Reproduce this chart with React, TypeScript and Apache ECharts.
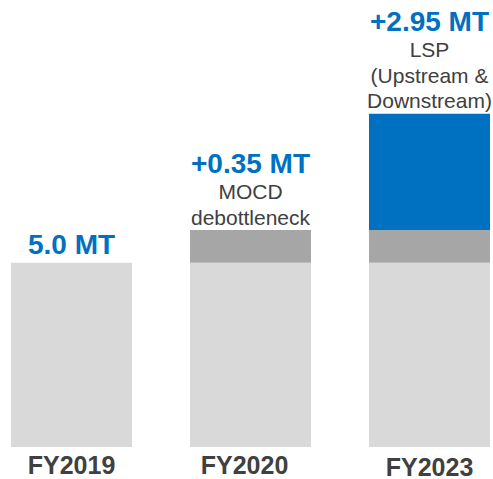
import React, { useEffect, useRef } from "react";
import * as echarts from "echarts";

const categories = ["FY2019", "FY2020", "FY2023"];
// drawn segment heights (MT units on the bar scale)
const baseValues = [5.0, 5.0, 5.0];
const debottleneckValues = [0, 0.89, 0.89];
const lspValues = [0, 0, 3.16];
const headlineLabels = ["5.0 MT", "+0.35 MT", "+2.95 MT"];
const detailLabels = [[], ["MOCD", "debottleneck"], ["LSP", "(Upstream &", "Downstream)"]];

const BLUE = "#0070c0";
const TEXT = "#404040";
const FONT = "'Liberation Sans', Arial, sans-serif";

export default function App() {
  const ref = useRef<HTMLDivElement>(null);
  useEffect(() => {
    if (!ref.current) return;
    const chart = echarts.init(ref.current, null, { renderer: "svg" });
    const seriesValues = [baseValues, debottleneckValues, lspValues];
    const colors = ["#d9d9d9", "#a6a6a6", BLUE];
    const names = ["Base", "MOCD debottleneck", "LSP"];
    const topIndex = categories.map((_, i) => {
      let t = 0;
      seriesValues.forEach((vals, s) => {
        if (vals[i] > 0) t = s;
      });
      return t;
    });
    const series = seriesValues.map((vals, s) => ({
      name: names[s],
      type: "bar",
      stack: "total",
      barWidth: 121,
      itemStyle: { color: colors[s] },
      data: vals.map((v, i) => {
        const item: any = { value: v };
        if (topIndex[i] === s) {
          const lines = [`{h|${headlineLabels[i]}}`].concat(
            detailLabels[i].map((d) => `{s|${d}}`)
          );
          item.label = {
            show: true,
            position: "top",
            distance: detailLabels[i].length ? 0 : 2,
            formatter: lines.join("\n"),
            rich: {
              h: {
                fontSize: 28,
                fontWeight: "bold",
                color: BLUE,
                lineHeight: 32,
                fontFamily: FONT,
              },
              s: {
                fontSize: 21,
                color: TEXT,
                lineHeight: 25.5,
                fontFamily: FONT,
              },
            },
          };
        }
        return item;
      }),
    }));
    chart.setOption({
      animation: false,
      grid: { left: 0, right: 0, top: 0, bottom: 30 },
      xAxis: {
        type: "category",
        data: categories,
        axisLine: { show: false },
        axisTick: { show: false },
        axisLabel: {
          margin: 5,
          formatter: (v: string) => {
            const i = categories.indexOf(v);
            return `{c${i}|${v}}`;
          },
          rich: {
            c0: { fontSize: 25, fontWeight: "bold", color: TEXT, fontFamily: FONT },
            c1: {
              fontSize: 25,
              fontWeight: "bold",
              color: TEXT,
              fontFamily: FONT,
              padding: [0, 12, 0, 0],
            },
            c2: {
              fontSize: 25,
              fontWeight: "bold",
              color: TEXT,
              fontFamily: FONT,
              padding: [2, 0, 0, 0],
            },
          },
        },
      },
      yAxis: {
        type: "value",
        show: false,
        min: 0,
        max: 449 / 37,
        splitLine: { show: false },
      },
      series,
    });
    return () => chart.dispose();
  }, []);
  return (
    <div
      style={{
        position: "absolute",
        left: 0,
        top: 0,
        width: 493,
        height: 479,
        overflow: "hidden",
        background: "#fff",
      }}
    >
      <div
        ref={ref}
        style={{ position: "absolute", left: -18, top: 0, width: 537, height: 479 }}
      />
    </div>
  );
}
